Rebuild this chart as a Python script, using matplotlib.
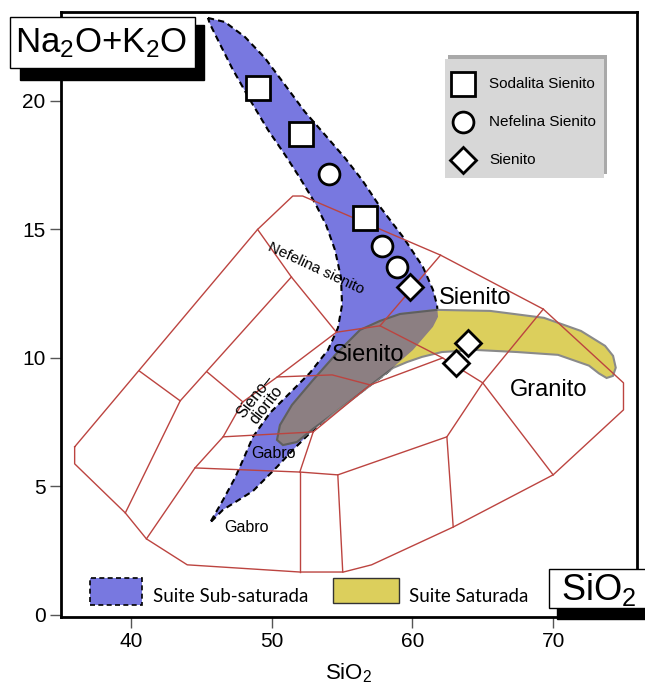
import matplotlib
matplotlib.use('Agg')
import matplotlib.pyplot as plt
from matplotlib.patches import Polygon, Rectangle
from matplotlib.lines import Line2D

plt.rcParams['font.family'] = ['Liberation Sans', 'DejaVu Sans']
plt.rcParams['mathtext.fontset'] = 'custom'
plt.rcParams['mathtext.rm'] = 'Liberation Sans'
plt.rcParams['mathtext.it'] = 'Liberation Sans:italic'

# --- classification outline (SiO2 wt%, Na2O+K2O wt%) ---
outline_x = [36.0, 49.0, 51.5, 52.2, 62.0, 69.3, 75.0, 75.0, 70.0, 62.9,
             57.1, 55.1, 52.0, 44.0, 41.1, 39.6, 36.0]
outline_y = [6.54, 15.0, 16.3, 16.3, 14.0, 11.9, 9.03, 7.98, 5.45, 3.42,
             1.95, 1.67, 1.67, 1.95, 2.96, 3.97, 5.88]

# internal field boundaries
field_lines = [
    ([39.6, 43.5, 51.4], [3.97, 8.33, 13.15]),
    ([40.6, 43.5], [9.49, 8.33]),
    ([49.0, 51.4, 54.6, 57.7, 62.0], [15.0, 13.15, 11.0, 11.25, 14.0]),
    ([41.1, 44.55, 46.55, 47.95, 50.4, 54.6], [2.96, 5.72, 6.93, 8.29, 9.26, 11.0]),
    ([45.4, 47.95], [9.46, 8.29]),
    ([46.55, 52.95], [6.93, 7.12]),
    ([44.55, 52.0, 54.7, 62.45, 65.0, 69.3], [5.72, 5.56, 5.45, 6.93, 9.03, 11.9]),
    ([57.7, 62.15, 65.0, 70.0], [11.25, 10.0, 9.03, 5.45]),
    ([50.4, 54.3, 57.0, 62.15], [9.26, 9.34, 8.95, 10.0]),
    ([52.95, 57.0], [7.12, 8.95]),
    ([52.0, 52.95], [5.56, 7.12]),
    ([52.0, 52.0], [5.56, 1.67]),
    ([54.7, 55.05], [5.45, 1.67]),
    ([62.45, 62.9], [6.93, 3.42]),
]

# sample suites
subsat_x = [45.47, 46.68, 48.10, 49.52, 50.95, 52.37, 53.79, 55.21, 56.42, 57.70,
            59.33, 60.75, 61.46, 61.75, 61.82, 61.46, 60.04, 58.19, 56.28, 54.36,
            52.72, 51.51, 50.38, 48.67, 46.54, 45.61, 46.54, 47.39, 47.96, 48.67,
            49.88, 51.30, 52.72, 54.00, 54.71, 55.00, 54.93, 54.50, 53.86, 53.08,
            52.01, 50.95, 49.74, 48.46, 47.18, 46.18, 45.61]
subsat_y = [23.23, 23.07, 22.49, 21.67, 20.62, 19.57, 18.68, 17.78, 16.93, 15.88,
            14.71, 13.54, 12.65, 12.06, 11.60, 11.21, 10.31, 9.42, 8.64, 7.86,
            7.08, 6.42, 5.76, 4.82, 4.09, 3.58, 4.47, 5.33, 6.03, 6.93,
            7.86, 8.64, 9.42, 10.31, 11.17, 12.06, 13.11, 14.20, 15.18, 16.03,
            17.00, 17.90, 18.87, 20.04, 21.28, 22.37, 23.0]

sat_x = [50.38, 50.59, 51.44, 52.94, 54.64, 56.28, 57.70, 59.12, 61.75, 65.52,
         69.35, 71.98, 73.69, 74.26, 74.45, 74.25, 73.80, 73.25, 72.55, 70.35,
         67.43, 64.52, 62.10, 60.68, 59.62, 58.62, 56.77, 54.85, 52.94, 51.80, 50.80]
sat_y = [6.81, 7.39, 8.17, 9.14, 10.19, 11.09, 11.44, 11.71, 11.87, 11.83,
         11.56, 11.05, 10.47, 10.08, 9.62, 9.30, 9.22, 9.40, 9.70, 10.12,
         10.23, 10.31, 10.23, 10.04, 9.84, 9.61, 8.83, 8.02, 7.24, 6.73, 6.61]

sodalita_x = [49.0, 52.1, 56.6]
sodalita_y = [20.5, 18.7, 15.45]
nefelina_x = [54.1, 57.85, 58.9]
nefelina_y = [17.15, 14.35, 13.55]
sienito_x = [59.85, 63.95, 63.1]
sienito_y = [12.75, 10.6, 9.8]

field_names = ['Sienito', 'Sienito', 'Granito', 'Nefelina sienito', 'Sieno–\ndiorito',
               'Gabro', 'Gabro']
field_x = [64.45, 56.85, 69.65, 53.15, 49.2, 50.15, 48.2]
field_y = [12.35, 10.1, 8.75, 13.5, 8.35, 6.3, 3.42]
field_size = [17, 17, 17, 11, 11.5, 11.5, 11.5]
field_rot = [0, 0, 0, -25, 52, 0, 0]

W, H = 645, 686
fig = plt.figure(figsize=(W / 100, H / 100), dpi=100)
ax = fig.add_axes([61 / W, 1 - 617 / H, 576 / W, 605 / H])


def box(x0, y0, x1, y1, **kw):
    # rectangle given in figure pixels, origin top-left
    return Rectangle((x0 / W, 1 - y1 / H), (x1 - x0) / W, (y1 - y0) / H,
                     transform=fig.transFigure, **kw)


blue = Polygon(list(zip(subsat_x, subsat_y)), closed=True, facecolor='#7878e0',
               edgecolor='black', linestyle=(0, (3, 2)), linewidth=1.5, zorder=1)
ax.add_patch(blue)
ax.add_patch(Polygon(list(zip(sat_x, sat_y)), closed=True, facecolor='#dccf5c',
                     edgecolor='#8a8a8a', linewidth=1.5, zorder=2))
overlap = Polygon(list(zip(sat_x, sat_y)), closed=True, facecolor='#8c7f82',
                  edgecolor='#5f5f5f', linewidth=1.5, zorder=3)
ax.add_patch(overlap)
overlap.set_clip_path(blue)

ax.plot(outline_x + outline_x[:1], outline_y + outline_y[:1], color='#bc4440', lw=1, zorder=4)
for xs, ys in field_lines:
    ax.plot(xs, ys, color='#bc4440', lw=1, zorder=4)

for name, x, y, s, r in zip(field_names, field_x, field_y, field_size, field_rot):
    ax.text(x, y, name, fontsize=s, rotation=r, ha='center', va='center',
            linespacing=0.9, zorder=5)

mk = dict(markerfacecolor='white', markeredgecolor='black', markeredgewidth=2,
          linestyle='none', zorder=6)
ax.plot(sodalita_x, sodalita_y, marker='s', markersize=17, **mk)
ax.plot(nefelina_x, nefelina_y, marker='o', markersize=15, **mk)
ax.plot(sienito_x, sienito_y, marker='D', markersize=13, **mk)

ax.set_xlim(35.03, 75.96)
ax.set_ylim(-0.08, 23.46)
ax.set_xticks([40, 50, 60, 70])
ax.set_yticks([0, 5, 10, 15, 20])
ax.tick_params(direction='out', length=8, width=1, color='#555555', labelsize=15, pad=3)
for sp in ax.spines.values():
    sp.set_linewidth(2)
ax.set_xlabel('SiO$_2$', fontsize=16, labelpad=7)

# axis title boxes
fig.add_artist(box(20, 25, 204, 80, facecolor='black', edgecolor='black'))
fig.add_artist(box(10, 17, 195, 68, facecolor='white', edgecolor='black', lw=1))
fig.text(101 / W, 1 - 43 / H, 'Na$_2$O+K$_2$O', fontsize=25, ha='center', va='center')
fig.add_artist(box(557, 578, 650, 619, facecolor='black', edgecolor='black'))
fig.add_artist(box(549, 569, 650, 608, facecolor='white', edgecolor='black', lw=1))
fig.text(599 / W, 1 - 589 / H, 'SiO$_2$', fontsize=26, ha='center', va='center')

# sample legend
legend_labels = ['Sodalita Sienito', 'Nefelina Sienito', 'Sienito']
legend_markers = ['s', 'o', 'D']
legend_sizes = [17, 15, 13]
fig.add_artist(box(448, 55, 607, 174, facecolor='#a9a9a9', edgecolor='none'))
fig.add_artist(box(445, 59, 604, 178, facecolor='#d7d7d7', edgecolor='none'))
for i, (lab, m, s) in enumerate(zip(legend_labels, legend_markers, legend_sizes)):
    yy = 1 - (84 + 38 * i) / H
    fig.add_artist(Line2D([463 / W], [yy], transform=fig.transFigure, marker=m,
                          markersize=s, **mk))
    fig.text(489 / W, yy, lab, fontsize=11, va='center')

# suite legend
suite_labels = ['Suite Sub-saturada', 'Suite Saturada']
fig.add_artist(box(90, 578, 142, 605, facecolor='#7878e0', edgecolor='black',
                   linestyle=(0, (3, 2)), lw=1.2))
fig.text(153 / W, 1 - 596 / H, suite_labels[0], fontsize=13.5, va='center', family='Lato')
fig.add_artist(box(333, 578, 399, 603, facecolor='#dccf5c', edgecolor='#333333', lw=1))
fig.text(409 / W, 1 - 596 / H, suite_labels[1], fontsize=13.5, va='center', family='Lato')

fig.savefig('out.png', dpi=100)
